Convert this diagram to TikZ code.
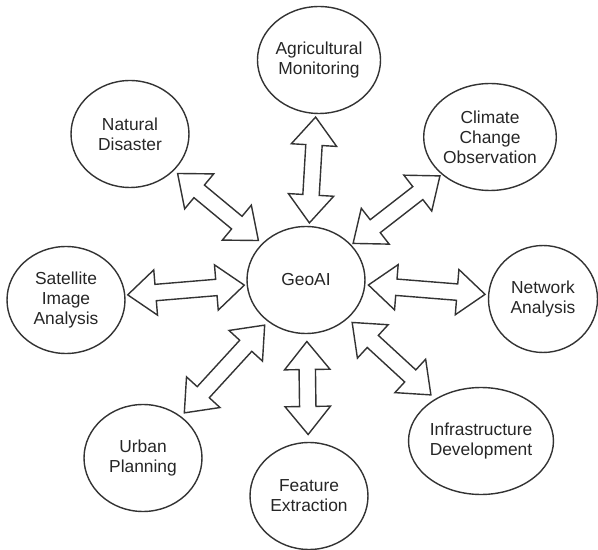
\documentclass[tikz,border=0pt]{standalone}
\usepackage{fontspec}
\setmainfont{Liberation Sans}
\usetikzlibrary{shapes.geometric,shapes.arrows}
\definecolor{linegray}{rgb}{0.2,0.2,0.2}

\begin{document}
\begin{tikzpicture}[x=0.02cm,y=-0.02cm,
    topic/.style={ellipse,draw=linegray,line width=0.8pt,minimum width=2.36cm,minimum height=2.14cm,inner sep=0pt,align=center,font=\fontsize{9.9}{11.4}\selectfont,text=black!85},
    link/.style={double arrow,draw=linegray,line width=0.8pt,sloped,inner xsep=0pt,inner ysep=0.15cm,double arrow head extend=0.29cm,double arrow tip angle=78,double arrow head indent=0pt,minimum height=#1*0.02cm}]
    \useasboundingbox (0,0) rectangle (598,550);
    % Topics
    \node[topic] (geoai) at (306,280) {GeoAI};
    \node[topic] (agri) at (319,60) {Agricultural\\Monitoring};
    \node[topic] (natural) at (130,134) {Natural\\Disaster};
    \node[topic] (climate) at (490,137) {Climate\\Change\\Observation};
    \node[topic] (satellite) at (66,300) {Satellite\\Image\\Analysis};
    \node[topic,minimum width=2.18cm] (network) at (543,299) {Network\\Analysis};
    \node[topic] (urban) at (143,458) {Urban\\Planning};
    \node[topic] (feature) at (309,496) {Feature\\Extraction};
    \node[topic] (infra) at (481,441) {Infrastructure\\Development};
    % Arrows
    \foreach \t/\l in {agri/106,climate/110,network/117,infra/107,feature/93,urban/119,satellite/117,natural/105}
      \path (geoai) -- node[link=\l] {} (\t);
\end{tikzpicture}
\end{document}
